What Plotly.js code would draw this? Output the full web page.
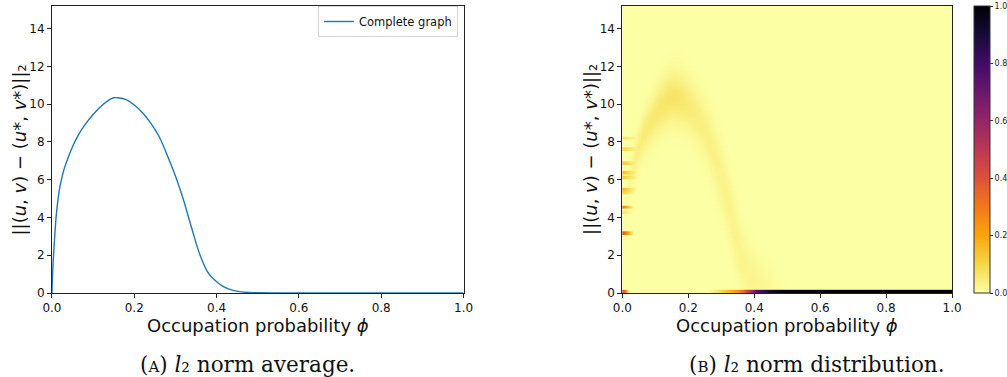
<!DOCTYPE html>
<html>
<head>
<meta charset="utf-8">
<script src="https://cdn.plot.ly/plotly-3.0.1.min.js"></script>
<style>
html,body{margin:0;padding:0;background:#fff;}
#chart{width:1007px;height:377px;}
</style>
</head>
<body>
<div id="chart"></div>
<script>
// ---- Panel A: average l2 norm vs occupation probability ----
const curvePhi = [0, 0.002, 0.005, 0.01, 0.015, 0.02, 0.03, 0.04, 0.05, 0.065, 0.08, 0.1, 0.12, 0.14, 0.15, 0.16, 0.18, 0.2, 0.22, 0.24, 0.26, 0.28, 0.3, 0.32, 0.34, 0.36, 0.38, 0.4, 0.42, 0.44, 0.46, 0.48, 0.5, 0.55, 0.6, 0.7, 0.8, 0.9, 1.0];
const curveL2  = [0, 1.2, 2.4, 4.0, 5.0, 5.7, 6.6, 7.2, 7.75, 8.4, 8.9, 9.45, 9.9, 10.24, 10.34, 10.34, 10.24, 9.96, 9.55, 9.0, 8.3, 7.3, 6.2, 4.9, 3.4, 2.0, 1.05, 0.6, 0.3, 0.14, 0.06, 0.025, 0.01, 0.002, 0, 0, 0, 0, 0];

// ---- Panel B: distribution (read-off band around the mean curve) ----
const bandPhi    = [0, 0.02, 0.04, 0.06, 0.08, 0.1, 0.12, 0.14, 0.16, 0.18, 0.2, 0.22, 0.25, 0.28, 0.31, 0.34, 0.37, 0.4, 0.43, 0.46, 0.5];
const bandPeak   = [0, 0.015, 0.035, 0.045, 0.05, 0.055, 0.06, 0.065, 0.065, 0.06, 0.05, 0.042, 0.036, 0.032, 0.03, 0.028, 0.026, 0.024, 0.018, 0.009, 0];
const bandSpread = [0.4, 0.5, 0.6, 0.7, 0.75, 0.8, 0.85, 0.9, 0.9, 0.9, 0.9, 0.95, 1.0, 1.05, 1.1, 1.1, 1.05, 1.0, 0.9, 0.8, 0.7];
// discrete stripes at very small phi
const stripeY   = [3.16, 4.25, 4.56, 5.3, 5.47, 6.12, 6.39, 6.87, 7.62, 8.2];
const stripeZ   = [0.4, 0.08, 0.3, 0.1, 0.16, 0.13, 0.15, 0.12, 0.1, 0.07];
const stripeLen = [0.035, 0.03, 0.035, 0.04, 0.045, 0.05, 0.05, 0.055, 0.06, 0.06];
// mass at l2 = 0
const floorPhi = [0, 0.01, 0.02, 0.26, 0.29, 0.32, 0.35, 0.37, 0.39, 0.41, 0.44, 0.47, 0.5, 1.0];
const floorZ   = [0.45, 0.3, 0, 0, 0.06, 0.15, 0.25, 0.35, 0.55, 0.75, 0.88, 0.95, 1.0, 1.0];

const xTicks = [0, 0.2, 0.4, 0.6, 0.8, 1.0];
const yTicks = [0, 2, 4, 6, 8, 10, 12, 14];
const cbTicks = [0, 0.2, 0.4, 0.6, 0.8, 1.0];

function interp(xs, ys, x) {
  if (x <= xs[0]) return ys[0];
  if (x >= xs[xs.length - 1]) return ys[ys.length - 1];
  for (let i = 1; i < xs.length; i++) {
    if (x <= xs[i]) {
      const t = (x - xs[i - 1]) / (xs[i] - xs[i - 1]);
      return ys[i - 1] + t * (ys[i] - ys[i - 1]);
    }
  }
}

// build heatmap table from the arrays above
const gx = [], gy = [];
for (let i = 0; i <= 200; i++) gx.push(i * 0.005);
for (let j = 0; j <= 304; j++) gy.push(j * 0.05);
const gz = gy.map(y => gx.map(p => {
  let v = 0;
  if (p <= 0.5) {
    const c = interp(curvePhi, curveL2, p);
    const s = interp(bandPhi, bandSpread, p);
    const a = interp(bandPhi, bandPeak, p);
    v += a * Math.exp(-0.5 * Math.pow((y - c) / s, 2));
  }
  for (let k = 0; k < stripeY.length; k++) {
    if (Math.abs(y - stripeY[k]) < 0.09 && p < stripeLen[k]) {
      v = Math.max(v, stripeZ[k] * (1 - p / stripeLen[k]));
    }
  }
  if (y < 0.18) v = Math.max(v, interp(floorPhi, floorZ, p));
  return Math.min(v, 1);
}));

const infernoR = [
  [0.0, '#fcffa4'], [0.1, '#f6d746'], [0.2, '#fca50a'], [0.3, '#f37819'],
  [0.4, '#dd513a'], [0.5, '#bc3754'], [0.6, '#932667'], [0.7, '#6a176e'],
  [0.8, '#420a68'], [0.9, '#160b39'], [1.0, '#000004']
];

const W = 1007, H = 377;
const px = v => v / W, py = v => (H - v) / H;

const yTitle = '||(<i>u</i>, <i>v</i>) − (<i>u</i>*, <i>v</i>*)||₂';
const xTitle = 'Occupation probability <i>ϕ</i>';

const axisCommon = {
  showline: true, mirror: true, linecolor: '#222', linewidth: 1,
  ticks: 'outside', ticklen: 4, tickwidth: 1, tickcolor: '#222',
  showgrid: false, zeroline: false,
  tickfont: {family: 'DejaVu Sans', size: 12, color: '#111'},
  automargin: false
};
const xTitleFont = {family: 'DejaVu Sans', size: 18, color: '#111'};
const yTitleFont = {family: 'DejaVu Sans', size: 18, color: '#111'};
const capFont = {family: 'DejaVu Serif', size: 21.5, color: '#111'};

const traces = [
  {
    type: 'scatter', mode: 'lines', x: curvePhi, y: curveL2,
    name: 'Complete graph', line: {color: '#1f77b4', width: 1.4, shape: 'spline', smoothing: 1.0},
    xaxis: 'x', yaxis: 'y'
  },
  {
    type: 'heatmap', x: gx, y: gy, z: gz, zmin: 0, zmax: 1,
    colorscale: infernoR, zsmooth: 'fast', showscale: true,
    xaxis: 'x2', yaxis: 'y2', hoverinfo: 'skip',
    colorbar: {
      x: px(974), xanchor: 'left', y: py(149.5), yanchor: 'middle',
      thickness: 16, thicknessmode: 'pixels', len: 287, lenmode: 'pixels',
      outlinewidth: 1, outlinecolor: '#333', xpad: 0, ypad: 0,
      ticks: 'outside', ticklen: 3, tickcolor: '#333',
      tickvals: cbTicks, tickformat: '.1f',
      tickfont: {family: 'DejaVu Sans', size: 8, color: '#222'}
    }
  }
];

function ann(text, x, y, font, extra) {
  return Object.assign({xref: 'paper', yref: 'paper', x: px(x), y: py(y),
    xanchor: 'center', yanchor: 'middle', showarrow: false, text: text, font: font}, extra || {});
}

const layout = {
  width: W, height: H,
  margin: {l: 0, r: 0, t: 0, b: 0},
  paper_bgcolor: '#fff', plot_bgcolor: '#fff',
  showlegend: true,
  legend: {
    x: px(458), xanchor: 'right', y: py(6), yanchor: 'top',
    bgcolor: '#fff', bordercolor: '#d6d6d6', borderwidth: 1,
    font: {family: 'DejaVu Sans', size: 11.5, color: '#111'},
    itemwidth: 30, tracegroupgap: 0
  },
  xaxis: Object.assign({}, axisCommon, {
    domain: [px(52), px(464)], anchor: 'y', range: [0, 1],
    tickvals: xTicks, tickformat: '.1f'
  }),
  yaxis: Object.assign({}, axisCommon, {
    domain: [py(293), py(6)], anchor: 'x', range: [0, 15.2],
    tickvals: yTicks
  }),
  xaxis2: Object.assign({}, axisCommon, {
    domain: [px(623), px(953)], anchor: 'y2', range: [0, 1],
    tickvals: xTicks, tickformat: '.1f'
  }),
  yaxis2: Object.assign({}, axisCommon, {
    domain: [py(293), py(6)], anchor: 'x2', range: [0, 15.2],
    tickvals: yTicks
  }),
  annotations: [
    ann(xTitle, 258, 325, xTitleFont),
    ann(xTitle, 788, 325, xTitleFont),
    ann(yTitle, 20, 149.5, yTitleFont, {textangle: -90}),
    ann(yTitle, 591, 149.5, yTitleFont, {textangle: -90}),
    ann('(<span style="font-size:15px">A</span>) <i>l</i>₂ norm average.', 248, 364, capFont),
    ann('(<span style="font-size:15px">B</span>) <i>l</i>₂ norm distribution.', 818, 364, capFont)
  ]
};

Plotly.newPlot('chart', traces, layout, {displayModeBar: false, staticPlot: true});
</script>
</body>
</html>
